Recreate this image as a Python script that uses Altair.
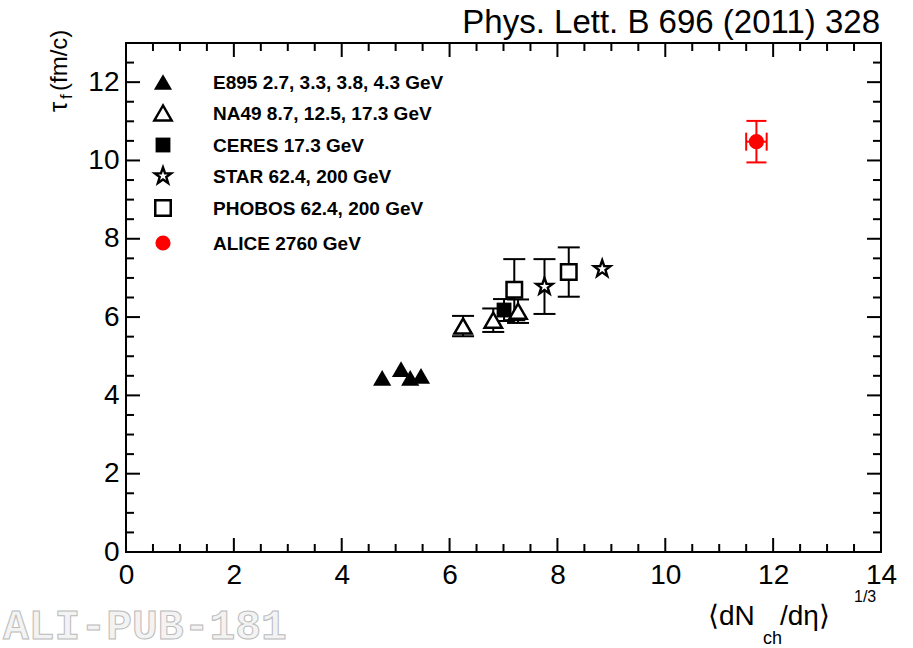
import altair as alt
import pandas as pd

# ---------------- data ----------------
e895_x = [4.75, 5.10, 5.27, 5.47]
e895_y = [4.45, 4.67, 4.45, 4.50]

na49_x = [6.25, 6.81, 7.27]
na49_y = [5.77, 5.92, 6.15]
na49_err = [0.26, 0.30, 0.30]

ceres_x = [7.01]
ceres_y = [6.18]
ceres_err = [0.28]

star_x = [7.76, 8.83]
star_y = [6.78, 7.23]
star_err = [0.70, 0.0]

phobos_x = [7.20, 8.21]
phobos_y = [6.70, 7.15]
phobos_err = [0.78, 0.63]

alice_x = [11.69]
alice_y = [10.48]
alice_yerr = [0.53]
alice_xerr = [0.19]

legend_labels = [
    "E895 2.7, 3.3, 3.8, 4.3 GeV",
    "NA49 8.7, 12.5, 17.3 GeV",
    "CERES 17.3 GeV",
    "STAR 62.4, 200 GeV",
    "PHOBOS 62.4, 200 GeV",
    "ALICE 2760 GeV",
]

x_ticks_major = [0, 2, 4, 6, 8, 10, 12, 14]
y_ticks_major = [0, 2, 4, 6, 8, 10, 12]

# ---------------- layout ----------------
W, H = 755, 509
FONT = "Liberation Sans"
MAJ, MIN = 14, 8

xs = alt.Scale(domain=[0, 14], nice=False, zero=False)
ys = alt.Scale(domain=[0, 13], nice=False, zero=False)
xaxis = alt.Axis(values=x_ticks_major, ticks=False, tickSize=0, domain=False, grid=False,
                 labelFont=FONT, labelFontSize=28, labelColor="black", labelPadding=9,
                 labelFlush=False, title=None)
yaxis = alt.Axis(values=y_ticks_major, ticks=False, tickSize=0, domain=False, grid=False,
                 labelFont=FONT, labelFontSize=28, labelColor="black", labelPadding=7,
                 labelFlush=False, title=None)


def X(f="x"):
    return alt.X(f"{f}:Q", scale=xs, axis=xaxis)


def Y(f="y"):
    return alt.Y(f"{f}:Q", scale=ys, axis=yaxis)


def df(**kw):
    return pd.DataFrame(kw)


layers = []

# ---------------- inward ticks on all four sides ----------------
x_minor = [v / 2 for v in range(0, 29) if v % 4 != 0]
y_minor = [v / 2 for v in range(0, 27) if v % 4 != 0]
for vals, ln in ((x_ticks_major, MAJ), (x_minor, MIN)):
    d = df(x=vals)
    layers.append(alt.Chart(d).mark_rule(color="black", strokeWidth=2).encode(
        x=X(), y=alt.value(H), y2=alt.value(H - ln)))
    layers.append(alt.Chart(d).mark_rule(color="black", strokeWidth=2).encode(
        x=X(), y=alt.value(0), y2=alt.value(ln)))
for vals, ln in ((y_ticks_major, MAJ), (y_minor, MIN)):
    d = df(y=vals)
    layers.append(alt.Chart(d).mark_rule(color="black", strokeWidth=2).encode(
        y=Y(), x=alt.value(0), x2=alt.value(ln)))
    layers.append(alt.Chart(d).mark_rule(color="black", strokeWidth=2).encode(
        y=Y(), x=alt.value(W), x2=alt.value(W - ln)))


# ---------------- error bars ----------------
def yerr_layers(xv, yv, ev, color="black", cap=22):
    d = df(x=xv, lo=[a - e for a, e in zip(yv, ev)], hi=[a + e for a, e in zip(yv, ev)], e=ev)
    d = d[d.e > 0]
    out = [
        alt.Chart(d).mark_rule(color=color, strokeWidth=2).encode(x=X(), y=Y("lo"), y2="hi:Q"),
        alt.Chart(d).mark_tick(color=color, orient="horizontal", size=cap, thickness=2, opacity=1).encode(x=X(), y=Y("lo")),
        alt.Chart(d).mark_tick(color=color, orient="horizontal", size=cap, thickness=2, opacity=1).encode(x=X(), y=Y("hi")),
    ]
    return out


layers += yerr_layers(na49_x, na49_y, na49_err)
layers += yerr_layers(ceres_x, ceres_y, ceres_err)
layers += yerr_layers(star_x, star_y, star_err)
layers += yerr_layers(phobos_x, phobos_y, phobos_err)
layers += yerr_layers(alice_x, alice_y, alice_yerr, color="#ff0000", cap=20)

dxe = df(y=alice_y, lo=[a - e for a, e in zip(alice_x, alice_xerr)],
         hi=[a + e for a, e in zip(alice_x, alice_xerr)])
layers += [
    alt.Chart(dxe).mark_rule(color="#ff0000", strokeWidth=2).encode(y=Y(), x=X("lo"), x2="hi:Q"),
    alt.Chart(dxe).mark_tick(color="#ff0000", orient="vertical", size=18, thickness=2, opacity=1).encode(y=Y(), x=X("lo")),
    alt.Chart(dxe).mark_tick(color="#ff0000", orient="vertical", size=18, thickness=2, opacity=1).encode(y=Y(), x=X("hi")),
]

# ---------------- markers ----------------
STYLES = [
    dict(shape="triangle-up", filled=True, fill="black", stroke="black", strokeWidth=0, size=330),
    dict(shape="triangle-up", filled=True, fill="white", stroke="black", strokeWidth=2.5, size=300),
    dict(shape="square", filled=True, fill="black", stroke="black", strokeWidth=0, size=220),
    dict(shape="M0,-1L0.235,-0.324L0.951,-0.309L0.38,0.124L0.588,0.809L0,0.4L-0.588,0.809L-0.38,0.124L-0.951,-0.309L-0.235,-0.324Z",
         filled=True, fill="white", stroke="black", strokeWidth=2.4, size=300),
    dict(shape="square", filled=True, fill="white", stroke="black", strokeWidth=2.5, size=240),
    dict(shape="circle", filled=True, fill="#ff0000", stroke="#ff0000", strokeWidth=0, size=230),
]
series = [
    (e895_x, e895_y),
    (na49_x, na49_y),
    (ceres_x, ceres_y),
    (star_x, star_y),
    (phobos_x, phobos_y),
    (alice_x, alice_y),
]
for (xv, yv), st in zip(series, STYLES):
    layers.append(alt.Chart(df(x=xv, y=yv)).mark_point(opacity=1, **st).encode(x=X(), y=Y()))

# ---------------- legend (drawn by hand) ----------------
leg_rows = [39, 70, 102, 133, 165, 200]
one = df(a=[0])
for lab, st, ry in zip(legend_labels, STYLES, leg_rows):
    layers.append(alt.Chart(one).mark_point(opacity=1, **st).encode(x=alt.value(37), y=alt.value(ry)))
    layers.append(alt.Chart(one).mark_text(text=lab, align="left", baseline="middle", font=FONT,
                                           fontSize=19, fontWeight="bold", color="black").encode(
        x=alt.value(87), y=alt.value(ry + 1)))

# ---------------- titles ----------------
def txt(s, x, y, size, angle=0, align="left", baseline="alphabetic", font=FONT, **kw):
    m = dict(text=s, align=align, baseline=baseline, font=font, fontSize=size, color="black")
    if angle:
        m["angle"] = angle
    m.update(kw)
    return alt.Chart(one).mark_text(**m).encode(x=alt.value(x), y=alt.value(y))


layers += [
    txt("Phys. Lett. B 696 (2011) 328", 754, -10, 33, align="right"),
    # x-axis title  <dN_ch/deta>^(1/3)
    txt("\u27e8dN", 582, 582, 28),
    txt("ch", 637, 601, 18),
    txt("/d\u03b7\u27e9", 654, 582, 28),
    txt("1/3", 728, 559, 16),
    # y-axis title  tau_f (fm/c)
    txt("\u03c4", -59, 69, 26, angle=270),
    txt("f", -54, 56, 17, angle=270),
    txt("(fm/c)", -59, 48, 24, angle=270),
    # watermark
    txt("ALI-PUB-181", -123, 596, 43, font="Liberation Mono", fontWeight="bold",
        fill="#f3f3f3", stroke="#bbbbbb", strokeWidth=1),
]

chart = alt.layer(*layers).properties(
    width=W, height=H,
    padding={"left": 126, "top": 43, "right": 32, "bottom": 96},
    autosize=alt.AutoSizeParams(type="none"),
    background="white",
).configure_view(stroke="black", strokeWidth=2)

chart.save("out.html", embed_options={"renderer": "svg", "actions": False})
